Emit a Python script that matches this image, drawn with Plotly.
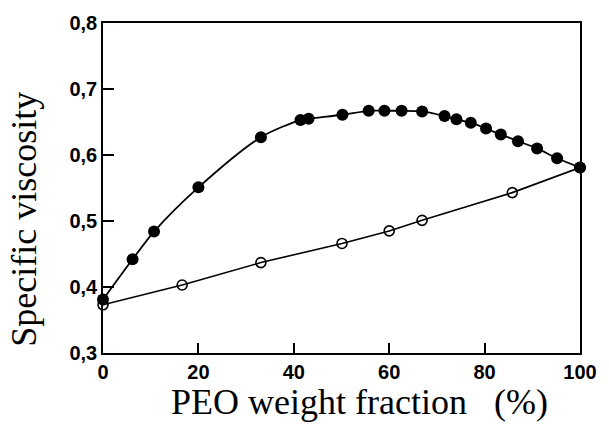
import plotly.graph_objects as go

# Filled circles (upper curve)
peo_filled = [0, 6.2, 10.7, 20.0, 33.1, 41.4, 43.1, 50.2, 55.7, 59.0, 62.6, 66.9,
              71.6, 74.1, 77.1, 80.3, 83.4, 87.0, 91.0, 95.2, 100]
visc_filled = [0.381, 0.442, 0.484, 0.551, 0.627, 0.653, 0.655, 0.661, 0.667, 0.667,
               0.667, 0.666, 0.659, 0.654, 0.649, 0.640, 0.631, 0.621, 0.610, 0.595, 0.581]

# Open circles (lower line)
peo_open = [0, 16.6, 33.1, 50.1, 60.0, 66.9, 85.8, 100]
visc_open = [0.373, 0.403, 0.437, 0.466, 0.485, 0.501, 0.543, 0.581]

x_ticks = [0, 20, 40, 60, 80, 100]
y_ticks = [0.3, 0.4, 0.5, 0.6, 0.7, 0.8]
y_labels = ["0,3", "0,4", "0,5", "0,6", "0,7", "0,8"]

fig = go.Figure()
fig.add_trace(go.Scatter(
    x=peo_open, y=visc_open, mode="lines+markers",
    line=dict(color="black", width=1.6),
    marker=dict(symbol="circle-open", size=10, color="black", line=dict(width=1.6)),
    cliponaxis=False, showlegend=False))
fig.add_trace(go.Scatter(
    x=peo_filled, y=visc_filled, mode="lines+markers",
    line=dict(color="black", width=1.8, shape="spline", smoothing=0.8),
    marker=dict(symbol="circle", size=12, color="black"),
    cliponaxis=False, showlegend=False))

fig.update_layout(
    width=609, height=427,
    margin=dict(l=103, r=22, t=14, b=74),
    plot_bgcolor="white", paper_bgcolor="white",
    xaxis=dict(range=[0, 100], tickvals=x_ticks, ticktext=[str(v) for v in x_ticks],
               ticks="inside", ticklen=10, tickwidth=1.5, tickcolor="black",
               showline=True, linecolor="black", linewidth=1.6, mirror=True,
               showgrid=False, zeroline=False,
               tickfont=dict(family="Liberation Sans", size=20, color="black", weight="bold")),
    yaxis=dict(range=[0.3, 0.8], tickvals=y_ticks, ticktext=y_labels,
               ticks="inside", ticklen=11, tickwidth=1.5, tickcolor="black",
               showline=True, linecolor="black", linewidth=1.6, mirror=True,
               showgrid=False, zeroline=False,
               tickfont=dict(family="Liberation Sans", size=20, color="black", weight="bold")),
    annotations=[
        dict(text="PEO weight fraction\u00a0\u00a0\u00a0(%)", xref="paper", yref="paper",
             x=0.537, y=-0.216, xanchor="center", yanchor="bottom", showarrow=False,
             font=dict(family="Liberation Serif", size=36, color="black")),
        dict(text="Specific viscosity", xref="paper", yref="paper", textangle=-90,
             x=-0.211, y=0.405, xanchor="left", yanchor="middle", showarrow=False,
             font=dict(family="Liberation Serif", size=36, color="black")),
    ],
)

fig.write_html("out.html")
